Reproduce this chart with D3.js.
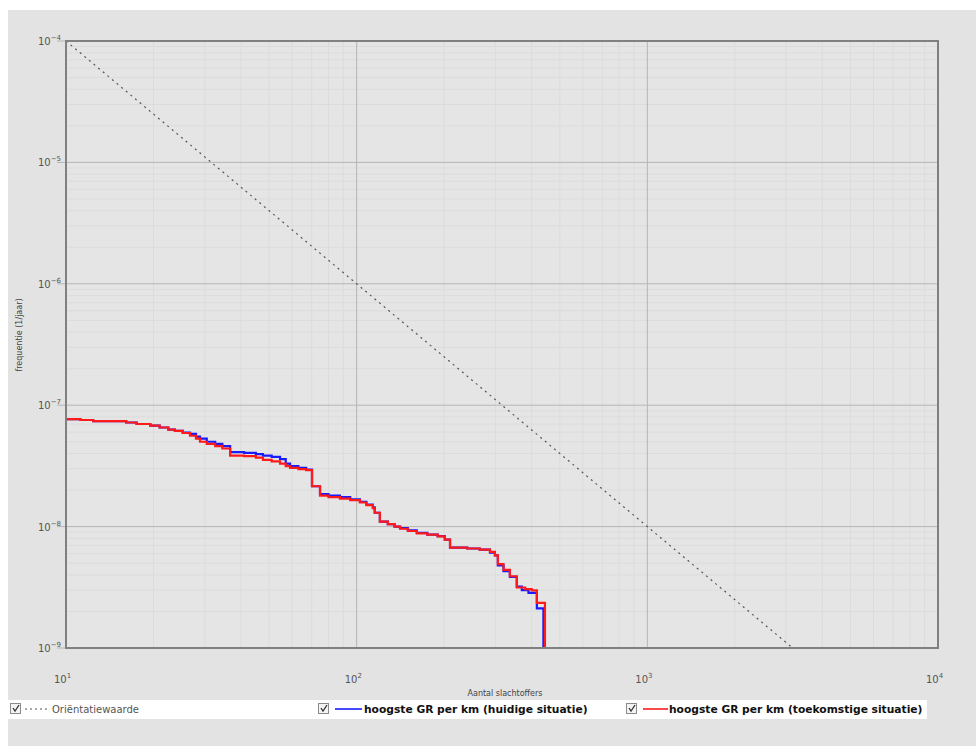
<!DOCTYPE html>
<html>
<head>
<meta charset="utf-8">
<script src="https://cdn.jsdelivr.net/npm/d3@7"></script>
<style>
  html, body { margin: 0; padding: 0; background: #ffffff; }
  svg { display: block; }
</style>
</head>
<body>
<svg id="chart" width="976" height="756"></svg>
<script>
// ---------- data ----------
const xTickExps = [1, 2, 3, 4];
const yTickExps = [-4, -5, -6, -7, -8, -9];
const xAxisTitle = "Aantal slachtoffers";
const yAxisTitle = "frequentie (1/jaar)";

const orientN = [10, 3162.28];
const orientF = [1e-4, 1e-9];

const currentN = [10, 11.2, 12.4, 16.1, 17.5, 19.5, 21, 22.5, 23.7, 25.2, 26.7, 28, 28.9, 30.5, 32.6, 34.5, 36.7, 41, 45, 47.6, 51, 54.5, 57, 59, 63, 67, 70.2, 74.8, 80, 87.6, 95, 102.6, 108, 113.7, 115.4, 120.2, 128, 135, 141, 150, 161, 175, 190, 201, 209.5, 240, 265, 287.5, 299, 306, 320, 336.6, 355.6, 370, 390, 416.8, 439];
const currentF = [7.69e-8, 7.55e-8, 7.4e-8, 7.2e-8, 7.0e-8, 6.8e-8, 6.55e-8, 6.3e-8, 6.15e-8, 5.95e-8, 5.8e-8, 5.5e-8, 5.3e-8, 5.0e-8, 4.8e-8, 4.6e-8, 4.1e-8, 4.05e-8, 3.95e-8, 3.85e-8, 3.75e-8, 3.6e-8, 3.3e-8, 3.15e-8, 3.05e-8, 2.95e-8, 2.15e-8, 1.85e-8, 1.8e-8, 1.75e-8, 1.68e-8, 1.6e-8, 1.52e-8, 1.44e-8, 1.3e-8, 1.1e-8, 1.05e-8, 1.0e-8, 9.7e-9, 9.3e-9, 8.9e-9, 8.6e-9, 8.35e-9, 7.8e-9, 6.7e-9, 6.6e-9, 6.45e-9, 6.1e-9, 5.8e-9, 4.8e-9, 4.3e-9, 3.85e-9, 3.2e-9, 3.0e-9, 2.85e-9, 2.12e-9, 1e-9];

const futureN = [10, 11.2, 12.4, 16.1, 17.5, 19.5, 21, 22.5, 23.7, 25.2, 26.7, 28, 28.9, 30.5, 32.6, 34.5, 36.7, 41, 45, 47.6, 51, 54.5, 57, 59, 63, 67, 70.2, 74.8, 80, 87.6, 95, 102.6, 108, 113.7, 115.4, 120.2, 128, 135, 141, 150, 161, 175, 190, 201, 209.5, 240, 265, 287.5, 299, 306, 320, 336.6, 355.6, 380, 400, 416.8, 444.4];
const futureF = [7.69e-8, 7.55e-8, 7.4e-8, 7.2e-8, 7.0e-8, 6.8e-8, 6.55e-8, 6.3e-8, 6.15e-8, 5.9e-8, 5.6e-8, 5.3e-8, 5.0e-8, 4.8e-8, 4.6e-8, 4.4e-8, 3.85e-8, 3.8e-8, 3.7e-8, 3.55e-8, 3.45e-8, 3.3e-8, 3.15e-8, 3.05e-8, 2.98e-8, 2.92e-8, 2.15e-8, 1.8e-8, 1.75e-8, 1.7e-8, 1.65e-8, 1.58e-8, 1.5e-8, 1.42e-8, 1.3e-8, 1.1e-8, 1.05e-8, 1.0e-8, 9.6e-9, 9.2e-9, 8.8e-9, 8.6e-9, 8.3e-9, 7.8e-9, 6.7e-9, 6.6e-9, 6.45e-9, 6.2e-9, 5.8e-9, 4.9e-9, 4.4e-9, 3.9e-9, 3.15e-9, 3.05e-9, 2.98e-9, 2.35e-9, 1e-9];

const legendLabels = ["Oriëntatiewaarde", "hoogste GR per km (huidige situatie)", "hoogste GR per km (toekomstige situatie)"];

// ---------- drawing ----------
const svg = d3.select("#chart");
const W = 976, H = 756;
const plot = { left: 66, top: 41, right: 938, bottom: 648 };

svg.append("rect").attr("x", 8).attr("y", 10).attr("width", W - 8).attr("height", 736).attr("fill", "#e3e3e3");
svg.append("rect").attr("x", plot.left).attr("y", plot.top)
  .attr("width", plot.right - plot.left).attr("height", plot.bottom - plot.top).attr("fill", "#e5e5e5");

const x = d3.scaleLog().domain([10, 10000]).range([plot.left, plot.right]);
const y = d3.scaleLog().domain([1e-9, 1e-4]).range([plot.bottom, plot.top]);

// minor grid
const minorX = [], minorY = [];
for (let e = 1; e < 4; e++) for (let m = 2; m <= 9; m++) minorX.push(m * Math.pow(10, e));
for (let e = -9; e < -4; e++) for (let m = 2; m <= 9; m++) minorY.push(m * Math.pow(10, e));
const g = svg.append("g");
g.selectAll(".mx").data(minorX).join("line")
  .attr("x1", d => x(d)).attr("x2", d => x(d)).attr("y1", plot.top).attr("y2", plot.bottom)
  .attr("stroke", "#dcdcdc").attr("stroke-width", 1);
g.selectAll(".my").data(minorY).join("line")
  .attr("y1", d => y(d)).attr("y2", d => y(d)).attr("x1", plot.left).attr("x2", plot.right)
  .attr("stroke", "#dcdcdc").attr("stroke-width", 1);
// major grid
g.selectAll(".Mx").data(xTickExps).join("line")
  .attr("x1", d => x(Math.pow(10, d))).attr("x2", d => x(Math.pow(10, d)))
  .attr("y1", plot.top).attr("y2", plot.bottom)
  .attr("stroke", "#b5b5b5").attr("stroke-width", 1);
g.selectAll(".My").data(yTickExps).join("line")
  .attr("y1", d => y(Math.pow(10, d))).attr("y2", d => y(Math.pow(10, d)))
  .attr("x1", plot.left - 9).attr("x2", plot.right)
  .attr("stroke", "#b5b5b5").attr("stroke-width", 1);

// orientation line
svg.append("line")
  .attr("x1", x(orientN[0])).attr("y1", y(orientF[0]))
  .attr("x2", x(orientN[1])).attr("y2", y(orientF[1]))
  .attr("stroke", "#555").attr("stroke-width", 1.2).attr("stroke-dasharray", "2,4");

// series
const line = d3.line().x(d => x(d[0])).y(d => y(d[1])).curve(d3.curveStepAfter);
svg.append("path").datum(currentN.map((n, i) => [n, currentF[i]]))
  .attr("d", line).attr("fill", "none").attr("stroke", "#1a1aff").attr("stroke-width", 2.2);
svg.append("path").datum(futureN.map((n, i) => [n, futureF[i]]))
  .attr("d", line).attr("fill", "none").attr("stroke", "#ff1a1a").attr("stroke-width", 2.2);

// border
svg.append("rect").attr("x", plot.left).attr("y", plot.top)
  .attr("width", plot.right - plot.left).attr("height", plot.bottom - plot.top)
  .attr("fill", "none").attr("stroke", "#808080").attr("stroke-width", 2);

// tick labels
const font = "DejaVu Sans, sans-serif";
yTickExps.forEach(e => {
  const t = svg.append("text").attr("x", 38).attr("y", y(Math.pow(10, e)) + 4)
    .attr("font-family", font).attr("font-size", 10).attr("fill", "#555");
  t.append("tspan").text("10");
  t.append("tspan").attr("dy", -5).attr("font-size", 7).text(String(e).replace("-", "\u2212"));
});
xTickExps.forEach(e => {
  const px = x(Math.pow(10, e));
  const t = svg.append("text").attr("x", px - 12).attr("y", 683)
    .attr("font-family", font).attr("font-size", 10).attr("fill", "#555");
  t.append("tspan").text("10");
  t.append("tspan").attr("dy", -5).attr("font-size", 7).text(String(e));
});

// axis titles
svg.append("text").attr("x", 505).attr("y", 696).attr("text-anchor", "middle")
  .attr("font-family", font).attr("font-size", 8).attr("fill", "#444").text(xAxisTitle);
svg.append("text").attr("transform", "translate(22,335) rotate(-90)").attr("text-anchor", "middle")
  .attr("font-family", font).attr("font-size", 8).attr("fill", "#444").text(yAxisTitle);

// legend
svg.append("rect").attr("x", 8).attr("y", 700).attr("width", 919).attr("height", 19).attr("fill", "#ffffff");
const legendItems = [
  { cx: 10, lx1: 25, lx2: 48, tx: 52, color: "#555", dash: "2,3", bold: false, w: 1, fs: 10 },
  { cx: 318, lx1: 335, lx2: 362, tx: 364, color: "#1a1aff", dash: null, bold: true, w: 1.6, fs: 10.7 },
  { cx: 626, lx1: 643, lx2: 668, tx: 669, color: "#ff1a1a", dash: null, bold: true, w: 1.6, fs: 10.7 }
];
legendItems.forEach((it, i) => {
  const lg = svg.append("g");
  lg.append("rect").attr("x", it.cx + 0.5).attr("y", 703.5).attr("width", 10).attr("height", 10)
    .attr("fill", "#f4f4f4").attr("stroke", "#8a8a8a").attr("stroke-width", 1);
  lg.append("path").attr("d", `M${it.cx + 3},${708} L${it.cx + 5},${711} L${it.cx + 9},${705}`)
    .attr("fill", "none").attr("stroke", "#333").attr("stroke-width", 1.3);
  const l = lg.append("line").attr("x1", it.lx1).attr("x2", it.lx2).attr("y1", 709).attr("y2", 709)
    .attr("stroke", it.color).attr("stroke-width", it.w);
  if (it.dash) l.attr("stroke-dasharray", it.dash);
  lg.append("text").attr("x", it.tx).attr("y", 713)
    .attr("font-family", font).attr("font-size", it.fs)
    .attr("font-weight", it.bold ? "bold" : "normal")
    .attr("fill", it.bold ? "#111" : "#555").text(legendLabels[i]);
});
</script>
</body>
</html>
